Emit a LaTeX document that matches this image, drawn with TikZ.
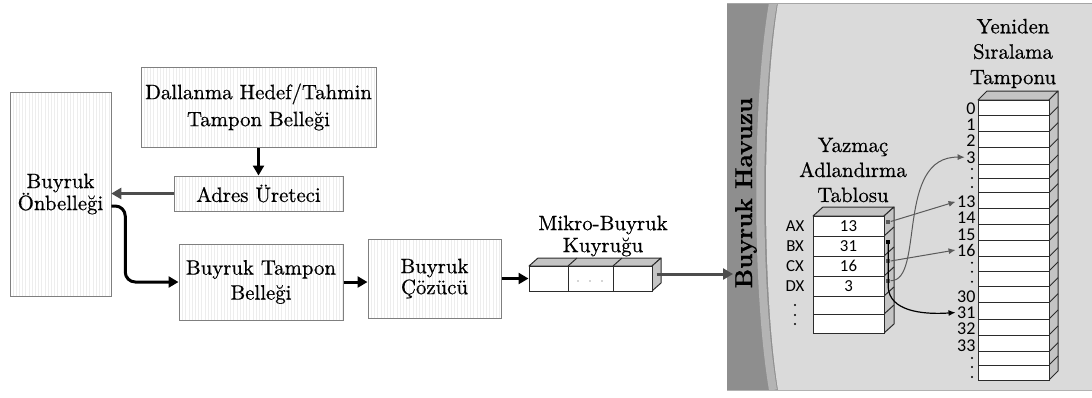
\documentclass[tikz,border=0pt]{standalone}
\usepackage{fontspec}
\setmainfont{Latin Modern Roman}[FakeBold=0.5]
\newfontfamily\labelserif{Latin Modern Roman}[FakeBold=0.6]
\newfontfamily\calibri{Carlito}
\usetikzlibrary{arrows.meta,patterns.meta,calc}

\definecolor{boxline}{HTML}{7F7F7F}
\definecolor{arrgray}{HTML}{4D4D4D}
\definecolor{thingray}{HTML}{5A5A5A}
\definecolor{pooldark}{HTML}{8E8E8E}
\definecolor{poolband}{HTML}{B4B4B4}
\definecolor{poollight}{HTML}{DADADA}
\definecolor{facegray}{HTML}{C4C4C4}
\definecolor{edge}{HTML}{2B2B2B}

\newcommand{\serifsz}[1]{\labelserif\fontsize{10.4}{#1}\selectfont}

\begin{document}
\begin{tikzpicture}[x=0.5pt,y=-0.5pt,
  unitbox/.style 2 args={draw=boxline, line width=0.5pt,
    pattern={Lines[angle=90,distance=1.6pt,line width=0.25pt]},
    pattern color=black!7, inner sep=0pt, align=center,
    minimum width=#1*0.5pt, minimum height=#2*0.5pt},
  front/.style 2 args={draw=edge, line width=0.5pt, fill=white, inner sep=0pt,
    minimum width=#1*0.5pt, minimum height=#2*0.5pt},
  face/.style={draw=edge, line width=0.5pt, fill=facegray, line join=round},
  flow/.style={line width=1.5pt, -{Triangle[length=5pt,width=5.5pt]}},
  thinarrow/.style={thingray, line width=0.5pt, -{Latex[length=3.5pt,width=3pt]}},
  cell/.style={font=\calibri\fontsize{8.4}{9}\selectfont, inner sep=0pt},
  robnum/.style={font=\calibri\fontsize{9}{9}\selectfont, inner sep=0.6pt, anchor=base east},
  sq/.style={minimum size=4*0.5pt, inner sep=0pt},
  title/.style={align=center, inner sep=0pt}
]
\useasboundingbox (0,0) rectangle (1092,397);

% ---------- instruction pool panel ----------
\node[fill=pooldark, inner sep=0pt, minimum width=365*0.5pt, minimum height=387*0.5pt] (pool) at (909.5,196.5) {};
\begin{scope}
  \clip (727,3) rectangle (1092,390);
  \draw[poolband, line width=4pt] (773,3) .. controls (756,100) and (756,290) .. (773,390);
  \fill[poollight] (778,3) .. controls (762,100) and (762,290) .. (778,390) -- (1092,390) -- (1092,3) -- cycle;
\end{scope}
\draw[black!35, line width=0.5pt] (727,3) -- (1092,3);
\draw[black!30, line width=0.5pt] (727,390) -- (1092,390);
\node[rotate=90, font=\bfseries\fontsize{12.2}{13}\selectfont, inner sep=0pt] (pooltitle) at (746,193) {Buyruk Havuzu};

% ---------- front-end boxes ----------
\node[unitbox={101}{204}, font=\serifsz{11pt}] (cache) at (60.5,194) {Buyruk\\Önbelleği};
\node[unitbox={235}{80}, font=\serifsz{13.5pt}] (btb) at (258.5,107) {Dallanma Hedef/Tahmin\\Tampon Belleği};
\node[unitbox={169}{35}, font=\serifsz{12pt}] (agen) at (258.5,193.5) {Adres Üreteci};
\node[unitbox={164}{76}, font=\serifsz{12.5pt}] (ibuf) at (261,282) {Buyruk Tampon\\Belleği};
\node[unitbox={133}{79}, font=\serifsz{10.5pt}] (dec) at (434.5,278.5) {Buyruk\\Çözücü};

% ---------- micro-op queue ----------
\filldraw[face] (529,266) -- (538,258) -- (661,258) -- (652,266) -- cycle;
\filldraw[face] (652,266) -- (661,258) -- (661,283) -- (652,291) -- cycle;
\draw[edge, line width=0.5pt] (568,266) -- (577,258) (613,266) -- (622,258);
\node[front={123}{25}] (q) at (590.5,278.5) {};
\draw[edge, line width=0.5pt] (568,266) -- (568,291) (613,266) -- (613,291);
\foreach \x in {578,590,602} \fill[black!70] (\x,281) circle[radius=0.35pt];
\node[title, font=\serifsz{11pt}] (qtitle) at (603,236) {Mikro-Buyruk\\Kuyruğu};

% ---------- front-end connectors ----------
\draw[flow, line width=1.3pt] (btb.south) -- (agen.north);
\draw[flow, arrgray] (agen.west) -- (cache.east |- agen.west);
\draw[flow, rounded corners=5pt] ($(cache.east)+(0,12)$) -- ++(14,0) |- (ibuf.west);
\draw[flow] (ibuf.east) -- (dec.west |- ibuf.east);
\draw[flow] (dec.east) -- (q.west);
\coordinate (poolin) at (733,274);
\draw[flow, arrgray] ($(q.east)+(4,-4.5)$) -- (poolin);

% ---------- register alias table ----------
\filldraw[face] (813,216) -- (823,207) -- (894,207) -- (884,216) -- cycle;
\filldraw[face] (884,216) -- (894,207) -- (894,324) -- (884,333) -- cycle;
\foreach \y in {236,256,276,296,314} \draw[edge, line width=0.5pt] (884,\y) -- (894,\y-9);
\node[front={71}{117}] (rat) at (848.5,274.5) {};
\foreach \y in {236,256,276,296,314} \draw[edge, line width=0.5pt] (813,\y) -- (884,\y);
\foreach \r/\v/\yc in {AX/13/226, BX/31/246, CX/16/266, DX/3/286} {
  \node[cell] (name\r) at (795,\yc) {\r};
  \node[cell] (val\r) at (848.5,\yc) {\v};
}
\foreach \y in {305,315,324} \fill (795,\y) circle[radius=0.55pt];
\node[title, font=\serifsz{12.5pt}] (rattitle) at (853,170) {Yazmaç\\Adlandırma\\Tablosu};

\node[sq, fill=thingray] (sqa) at (888.3,221.5) {};
\node[sq, fill=black]    (sqb) at (888.3,241.5) {};
\node[sq, fill=thingray] (sqc) at (888.3,261) {};
\node[sq, fill=thingray] (sqd) at (888.3,280.7) {};

% ---------- reorder buffer ----------
\filldraw[face] (978,100) -- (987,91) -- (1058,91) -- (1049,100) -- cycle;
\filldraw[face] (1049,100) -- (1058,91) -- (1058,371) -- (1049,380) -- cycle;
\foreach \y in {115.7,131.7,147.7,164,178.3,192.7,208.3,224.3,240.7,256.7,271,286.7,302.7,319,335,351.7,365}
  \draw[edge, line width=0.5pt] (1049,\y) -- (1058,\y-9);
\node[front={71}{280}] (rob) at (1013.5,240) {};
\foreach \y in {115.7,131.7,147.7,164,178.3,192.7,208.3,224.3,240.7,256.7,271,286.7,302.7,319,335,351.7,365}
  \draw[edge, line width=0.5pt] (978,\y) -- (1049,\y);
\foreach \n/\yb in {0/114,1/130.5,2/146.5,3/163,13/207.5,14/223.5,15/240,16/256,30/302,31/318.3,32/334.3,33/351}
  \node[robnum] (r\n) at (977,\yb) {\n};
\foreach \y in {169,178,187,262.7,271.7,281.7,358,367,377} \fill (972,\y) circle[radius=0.55pt];
\node[title, font=\serifsz{12.7pt}] (robtitle) at (1013,53.5) {Yeniden\\Sıralama\\Tamponu};

% ---------- alias pointers ----------
\draw[thinarrow] (sqa.east) -- (r13.west);
\draw[thinarrow] (sqc.east) -- (r16.west);
\draw[thinarrow] (sqd.east) .. controls (925,281) and (895,156) .. (r3.west);
\draw[black, line width=0.6pt, -{Latex[length=3.5pt,width=3pt]}]
  (sqb.south) -- (888.3,288) .. controls (890,310) and (920,315) .. (r31.west);
\end{tikzpicture}
\end{document}
